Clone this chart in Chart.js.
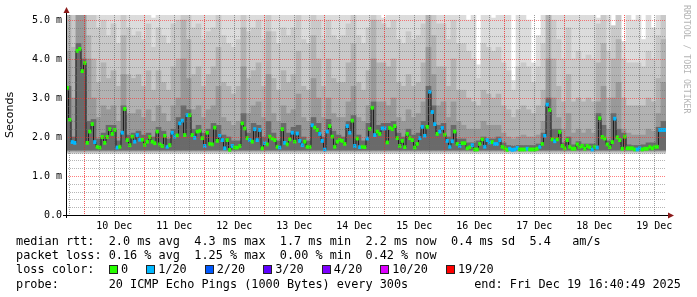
<!DOCTYPE html>
<html>
<head>
<meta charset="utf-8">
<script src="https://cdn.jsdelivr.net/npm/chart.js@4.4.1/dist/chart.umd.min.js"></script>
<style>
  body { margin: 0; background: #fff; }
  #wrap { position: relative; width: 697px; height: 297px; overflow: hidden; }
  #chart { position: absolute; left: 0; top: 0; }
  .leg { position: absolute; left: 16px; font: 11.85px "DejaVu Sans Mono", monospace; color: #000; white-space: pre; line-height: 14px; }
  .box { display: inline-block; width: 7px; height: 7px; border: 1px solid #222; margin-right: 3px; vertical-align: -1px; }
  .item { margin-right: 18px; }
  #mark { position: absolute; left: 682px; top: 5px; writing-mode: vertical-rl; font: 8.2px "DejaVu Sans Mono", monospace; color: #b4b4b4; white-space: pre; }
</style>
</head>
<body>
<div id="wrap">
  <canvas id="chart" width="697" height="297"></canvas>
  <div class="leg" id="rttLine" style="top:234px"></div>
  <div class="leg" id="lossLine" style="top:248px"></div>
  <div class="leg" style="top:262px">loss color:</div>
  <div class="leg" id="lossColors" style="top:262px; left:109px"></div>
  <div class="leg" id="probeLine" style="top:277px"></div>
  <div class="leg" id="endLine" style="top:277px; left:auto; right:16px"></div>
  <div id="mark">RRDTOOL / TOBI OETIKER</div>
</div>
<script>
// median rtt per hour (ms), 240 hours from Dec 9 16:40:49
const medianMs = [
  3.26, 2.44, 1.87, 1.85, 4.21, 4.26, 3.69, 3.90, 1.85, 2.14,
  2.33, 1.87, 1.75, 1.73, 2.00, 1.85, 2.00, 2.20, 2.08, 2.18,
  1.73, 1.75, 2.11, 2.72, 1.92, 1.79, 2.01, 1.88, 2.05, 1.93,
  1.93, 1.80, 1.88, 2.00, 1.88, 1.84, 2.14, 1.81, 1.77, 2.03,
  1.75, 1.79, 2.11, 2.01, 2.04, 2.35, 2.42, 2.05, 2.56, 2.56,
  2.05, 1.98, 2.14, 2.16, 1.97, 1.77, 2.11, 1.82, 1.81, 2.24,
  1.90, 2.03, 1.92, 1.71, 1.92, 1.67, 1.77, 1.73, 1.73, 1.77,
  2.35, 2.22, 1.97, 1.92, 1.88, 2.20, 1.92, 2.18, 1.71, 1.84,
  1.81, 2.01, 1.96, 1.92, 1.75, 1.73, 2.20, 1.85, 1.81, 1.94,
  2.11, 1.88, 2.09, 1.90, 1.79, 1.88, 1.75, 1.75, 2.30, 2.24,
  2.18, 2.08, 1.90, 1.68, 2.14, 2.28, 2.01, 1.75, 1.88, 1.92,
  1.90, 1.82, 2.28, 2.11, 2.42, 1.77, 1.96, 1.74, 1.75, 1.74,
  1.96, 2.21, 2.75, 2.05, 2.14, 2.08, 2.22, 2.22, 1.86, 2.23,
  2.20, 2.28, 1.97, 1.77, 1.90, 1.74, 2.08, 1.97, 1.92, 1.73,
  1.82, 1.97, 2.26, 2.03, 2.26, 3.16, 2.64, 2.33, 2.08, 2.14,
  2.23, 2.06, 1.90, 1.75, 1.89, 2.14, 1.82, 1.77, 1.84, 1.84,
  1.71, 1.74, 1.79, 1.68, 1.68, 1.82, 1.94, 1.75, 1.92, 1.86,
  1.87, 1.82, 1.82, 1.92, 1.75, 1.71, 1.67, 1.70, 1.67, 1.68,
  1.72, 1.68, 1.68, 1.68, 1.70, 1.68, 1.68, 1.68, 1.70, 1.75,
  1.82, 2.03, 2.83, 2.69, 1.94, 1.89, 1.94, 2.13, 1.77, 1.71,
  1.92, 1.75, 1.70, 1.70, 1.81, 1.75, 1.77, 1.70, 1.77, 1.74,
  1.68, 1.75, 1.73, 2.48, 2.00, 1.96, 1.81, 1.74, 1.87, 2.47,
  1.99, 1.92, 1.70, 2.01, 1.71, 1.71, 1.71, 1.68, 1.68, 1.71,
  1.68, 1.70, 1.70, 1.75, 1.71, 1.75, 1.75, 2.18, 2.18, 2.18,
];

// lost pings (out of 20) per hour
const medianLoss = [
  0, 0, 1, 1, 0, 0, 0, 0, 0, 0,
  0, 1, 0, 0, 0, 0, 0, 0, 0, 0,
  1, 0, 1, 0, 0, 0, 0, 1, 1, 1,
  0, 0, 0, 0, 0, 0, 0, 0, 0, 0,
  1, 0, 1, 1, 0, 1, 1, 0, 1, 0,
  0, 1, 0, 0, 0, 1, 0, 0, 0, 0,
  0, 1, 1, 1, 0, 0, 1, 0, 0, 0,
  0, 0, 0, 1, 0, 1, 1, 1, 0, 1,
  0, 0, 0, 0, 0, 1, 0, 1, 0, 0,
  1, 0, 1, 1, 1, 0, 0, 0, 1, 0,
  0, 1, 1, 1, 1, 0, 0, 0, 0, 0,
  0, 0, 1, 1, 0, 1, 0, 1, 0, 0,
  1, 0, 0, 1, 0, 0, 1, 1, 0, 0,
  0, 0, 0, 0, 0, 0, 0, 0, 0, 0,
  0, 1, 1, 1, 0, 1, 1, 1, 0, 1,
  1, 0, 1, 1, 1, 0, 0, 1, 0, 0,
  0, 0, 1, 0, 0, 0, 0, 1, 1, 1,
  0, 1, 1, 1, 0, 0, 0, 1, 1, 1,
  1, 0, 0, 0, 1, 0, 0, 0, 0, 1,
  0, 1, 1, 0, 0, 1, 0, 0, 0, 0,
  0, 0, 0, 0, 0, 0, 0, 0, 0, 0,
  1, 0, 1, 0, 0, 0, 0, 0, 0, 1,
  0, 0, 0, 0, 0, 0, 0, 0, 1, 1,
  0, 0, 0, 0, 0, 0, 0, 1, 1, 1,
];

// smoke: upper edge of each ping band per 2-hour column (ms), outer band first
const smokeL1 = [
  5.2, 5.2, 5.2, 5.2, 5.2, 5.2, 5.2, 5.2, 5.2, 5.2,
  5.2, 5.2, 5.2, 5.2, 5.2, 5.2, 5.2, 5.05, 5.2, 5.2,
  5.2, 5.2, 5.2, 5.2, 5.2, 5.2, 5.2, 5.2, 5.2, 5.2,
  5.2, 5.2, 5.2, 5.2, 5.2, 5.2, 5.2, 5.2, 5.2, 5.2,
  5.2, 5.2, 5.2, 5.2, 5.2, 5.2, 5.2, 5.2, 5.2, 5.2,
  5.2, 5.2, 5.2, 5.2, 5.2, 5.2, 5.2, 5.2, 5.2, 5.2,
  5.2, 5.2, 5.2, 5.05, 5.2, 5.2, 5.2, 5.2, 5.2, 5.2,
  5.2, 5.2, 5.2, 5.2, 5.2, 5.2, 5.2, 5.2, 5.2, 5.2,
  5.0, 5.2, 3.85, 5.2, 5.2, 5.05, 5.2, 5.2, 5.2, 3.45,
  5.2, 5.2, 5.0, 3.9, 4.6, 5.2, 5.2, 5.2, 5.2, 5.2,
  5.2, 5.2, 5.2, 5.2, 5.2, 5.2, 5.05, 5.2, 5.2, 4.85,
  5.2, 4.45, 5.2, 5.0, 5.2, 4.5, 5.2, 4.8, 5.2, 5.2,
];
const smokeL2 = [
  5.2, 5.2, 5.2, 5.2, 5.2, 5.2, 4.8, 5.0, 4.6, 4.9,
  4.4, 5.2, 4.8, 4.6, 4.7, 4.5, 4.9, 4.3, 4.8, 4.6,
  4.4, 4.9, 5.0, 5.2, 5.2, 4.8, 4.9, 4.5, 4.7, 4.8,
  5.2, 4.6, 4.4, 4.3, 4.5, 5.2, 4.7, 4.8, 5.0, 4.5,
  5.2, 4.7, 4.4, 4.8, 4.6, 4.8, 5.2, 4.5, 4.4, 5.2,
  5.0, 4.5, 5.0, 4.6, 4.5, 4.6, 4.9, 5.2, 4.6, 4.4,
  4.8, 5.2, 5.0, 4.9, 4.8, 5.0, 4.5, 4.4, 4.7, 4.5,
  4.6, 4.9, 5.2, 5.2, 4.9, 4.9, 4.5, 5.0, 4.4, 4.4,
  4.2, 4.0, 3.5, 4.4, 4.3, 4.2, 4.3, 3.9, 3.7, 3.2,
  3.8, 3.9, 3.8, 3.4, 3.8, 4.4, 5.2, 5.0, 4.5, 4.0,
  4.8, 4.0, 4.2, 4.0, 4.1, 4.0, 4.9, 5.2, 4.2, 4.85,
  5.2, 4.0, 3.9, 3.9, 3.9, 3.8, 4.2, 4.0, 4.6, 5.2,
];
const smokeL3 = [
  5.2, 4.3, 5.2, 5.2, 4.6, 4.0, 3.4, 3.9, 3.5, 3.7,
  3.3, 4.6, 3.6, 3.5, 3.6, 3.3, 3.7, 3.2, 3.7, 3.4,
  3.2, 3.8, 4.0, 5.0, 4.5, 3.6, 3.8, 3.3, 3.6, 3.8,
  4.3, 3.4, 3.3, 3.1, 3.3, 4.8, 3.5, 3.7, 3.9, 3.3,
  4.7, 3.5, 3.2, 3.7, 3.4, 3.6, 4.2, 3.3, 3.2, 4.6,
  4.0, 3.3, 4.0, 3.5, 3.4, 3.4, 3.9, 4.4, 3.4, 3.2,
  3.7, 5.0, 3.9, 3.9, 3.8, 4.0, 3.4, 3.3, 3.6, 3.3,
  3.4, 3.9, 5.2, 4.6, 3.8, 3.8, 3.3, 4.0, 3.2, 3.2,
  3.0, 2.9, 2.8, 3.2, 3.1, 3.0, 3.1, 2.8, 2.7, 2.5,
  2.7, 2.8, 2.7, 2.6, 2.8, 3.2, 5.2, 4.0, 3.3, 2.9,
  3.6, 2.9, 3.0, 2.9, 3.0, 2.9, 3.9, 4.4, 3.0, 4.0,
  4.5, 3.0, 2.8, 2.8, 2.8, 2.8, 3.0, 2.9, 3.5, 4.5,
];
const smokeL4 = [
  4.2, 3.0, 5.2, 5.2, 4.0, 3.0, 2.5, 2.8, 2.7, 2.8,
  2.4, 3.6, 2.6, 2.6, 2.7, 2.5, 2.7, 2.4, 2.8, 2.6,
  2.4, 2.8, 3.0, 4.0, 3.5, 2.7, 2.8, 2.5, 2.7, 2.8,
  3.3, 2.5, 2.4, 2.3, 2.4, 3.8, 2.6, 2.8, 2.9, 2.5,
  3.6, 2.6, 2.4, 2.8, 2.6, 2.7, 3.1, 2.5, 2.4, 3.5,
  3.0, 2.5, 3.0, 2.6, 2.5, 2.5, 2.9, 3.3, 2.5, 2.4,
  2.8, 4.0, 2.9, 2.9, 2.8, 3.0, 2.5, 2.4, 2.7, 2.5,
  2.6, 2.9, 4.3, 3.6, 2.8, 2.9, 2.5, 2.9, 2.4, 2.3,
  2.2, 2.2, 2.2, 2.4, 2.3, 2.3, 2.3, 2.1, 2.0, 1.95,
  2.0, 2.05, 2.0, 2.0, 2.05, 2.4, 4.0, 3.0, 2.5, 2.2,
  2.6, 2.1, 2.2, 2.1, 2.2, 2.1, 2.9, 3.3, 2.2, 3.0,
  3.4, 2.2, 2.1, 2.05, 2.05, 2.05, 2.2, 2.15, 2.6, 3.4,
];
const smokeL5 = [
  3.3, 2.0, 4.4, 4.0, 2.4, 2.45, 1.95, 2.1, 2.3, 2.3,
  1.9, 2.8, 2.05, 2.1, 2.15, 2.05, 2.1, 2.0, 2.25, 2.15,
  1.95, 2.2, 2.5, 2.8, 2.7, 2.2, 2.3, 2.1, 2.2, 2.35,
  2.3, 2.05, 2.0, 1.9, 1.9, 2.6, 2.1, 2.35, 2.3, 2.0,
  2.4, 2.1, 1.9, 2.35, 2.1, 2.25, 2.3, 2.0, 1.9, 2.5,
  2.35, 2.0, 2.45, 2.15, 2.05, 2.0, 2.4, 2.55, 2.05, 1.9,
  2.35, 2.9, 2.3, 2.35, 2.35, 2.4, 2.1, 2.0, 2.2, 2.05,
  2.1, 2.4, 3.3, 2.8, 2.3, 2.35, 2.0, 2.3, 1.95, 1.95,
  1.85, 1.85, 1.9, 2.0, 1.95, 1.95, 2.0, 1.85, 1.78, 1.76,
  1.78, 1.78, 1.78, 1.78, 1.82, 2.1, 3.0, 2.2, 2.2, 1.85,
  2.0, 1.8, 1.88, 1.82, 1.82, 1.82, 2.6, 2.3, 1.9, 2.6,
  2.2, 2.1, 1.8, 1.78, 1.78, 1.8, 1.85, 1.85, 2.25, 2.4,
];
// lower edge of each band (ms)
const bandLows = [1.57, 1.6, 1.62, 1.645, 1.665];

const dayLabels = ["10 Dec", "11 Dec", "12 Dec", "13 Dec", "14 Dec", "15 Dec", "16 Dec", "17 Dec", "18 Dec", "19 Dec"];
const startClock = [16, 40, 49]; // Dec 9, graph spans 240 hours
const spanHours = 240;

const lossSteps = [0, 1, 2, 3, 4, 10, 19];
const lossColors = ["#26ff00", "#00b8ff", "#0059ff", "#5e00ff", "#7e00ff", "#dd00ff", "#ff0000"];
const rttStats = ["2.0 ms avg", "4.3 ms max", "1.7 ms min", "2.2 ms now", "0.4 ms sd", "5.4   am/s"];
const lossStats = ["0.16 % avg", "1.25 % max", "0.00 % min", "0.42 % now"];
const probeText = "20 ICMP Echo Pings (1000 Bytes) every 300s";
const endText = "end: Fri Dec 19 16:40:49 2025";

const smokeColors = ["#dcdcdc", "#c9c9c9", "#b2b2b2", "#999999", "#6a6a6a"];
const majorGrid = "rgba(255, 40, 40, 0.6)";
const minorGrid = "rgba(110, 110, 110, 0.5)";
const majorGridV = "rgba(240, 30, 30, 0.75)";
const minorGridV = "rgba(90, 90, 90, 0.6)";

// legend text
document.getElementById("rttLine").textContent = "median rtt:  " + rttStats.join("  ");
document.getElementById("lossLine").textContent = "packet loss: " + lossStats.join("  ");
document.getElementById("probeLine").textContent = "probe:       " + probeText;
document.getElementById("endLine").textContent = endText;
document.getElementById("lossColors").innerHTML = lossSteps
  .map((n, i) => '<span class="item"><span class="box" style="background:' + lossColors[i] + '"></span>' + (n === 0 ? "0" : n + "/20") + "</span>")
  .join("");

const firstMidnight = 24 - (startClock[0] + startClock[1] / 60 + startClock[2] / 3600);
const tickHours = [];
for (let h = firstMidnight - 6; h <= spanHours; h += 6) tickHours.push(h);
const tickMs = [];
for (let i = 0; i <= 25; i++) tickMs.push(i / 5);

function isMidnight(v) {
  const r = (((v - firstMidnight) % 24) + 24) % 24;
  return r < 0.01 || r > 23.99;
}

function isWhole(v) {
  return Math.abs(v - Math.round(v)) < 0.001;
}

function dayLabel(v) {
  const d = Math.round((v - firstMidnight - 12) / 24);
  if (Math.abs(v - (firstMidnight + 12 + d * 24)) < 0.01 && dayLabels[d]) return dayLabels[d];
  return "";
}

const smokeTops = [smokeL1, smokeL2, smokeL3, smokeL4, smokeL5];
const smokeDatasets = smokeTops.map((tops, k) => ({
  type: "bar",
  data: tops.map((top, c) => ({ x: c * 2 + 1, y: [bandLows[k], top] })),
  backgroundColor: smokeColors[k],
  barThickness: 5,
  grouped: false,
  clip: 0,
  order: 6 - k,
}));

// dotted rrdtool grid and the axes with their arrows, drawn last
const rrdAxes = {
  id: "rrdAxes",
  afterDraw(chart) {
    const { ctx, chartArea: a, scales } = chart;
    ctx.save();
    ctx.lineWidth = 1;
    ctx.setLineDash([1, 1]);
    tickHours.forEach((h) => {
      const px = Math.round(scales.x.getPixelForValue(h)) + 0.5;
      if (px <= a.left + 1 || px >= a.right) return;
      ctx.strokeStyle = isMidnight(h) ? majorGridV : minorGridV;
      ctx.beginPath();
      ctx.moveTo(px, a.top);
      ctx.lineTo(px, a.bottom);
      ctx.stroke();
    });
    tickMs.forEach((v) => {
      const py = Math.round(scales.y.getPixelForValue(v)) + 0.5;
      if (py >= a.bottom) return;
      ctx.strokeStyle = isWhole(v) ? majorGrid : minorGrid;
      ctx.beginPath();
      ctx.moveTo(a.left, py);
      ctx.lineTo(a.right, py);
      ctx.stroke();
    });
    ctx.setLineDash([]);
    ctx.strokeStyle = "#000";
    ctx.beginPath();
    ctx.moveTo(a.left + 0.5, a.bottom + 3);
    ctx.lineTo(a.left + 0.5, a.top - 3);
    ctx.moveTo(a.left - 3, a.bottom + 0.5);
    ctx.lineTo(a.right + 3, a.bottom + 0.5);
    ctx.stroke();
    ctx.fillStyle = "#8b1a1a";
    ctx.beginPath();
    ctx.moveTo(a.left + 0.5, a.top - 8);
    ctx.lineTo(a.left - 2.5, a.top - 2);
    ctx.lineTo(a.left + 3.5, a.top - 2);
    ctx.closePath();
    ctx.fill();
    ctx.beginPath();
    ctx.moveTo(a.right + 8, a.bottom + 0.5);
    ctx.lineTo(a.right + 2, a.bottom - 2.5);
    ctx.lineTo(a.right + 2, a.bottom + 3.5);
    ctx.closePath();
    ctx.fill();
    ctx.restore();
  },
};

const ctx = document.getElementById("chart").getContext("2d");
const rttChart = new Chart(ctx, {
  type: "bar",
  data: {
    datasets: [
      {
        type: "bar",
        data: medianMs.map((m, i) => ({ x: i + 0.5, y: [m - 0.04, m + 0.04] })),
        backgroundColor: medianLoss.map((n) => lossColors[lossSteps.indexOf(n)]),
        barThickness: 2.5,
        grouped: false,
        clip: 0,
        order: 0,
      },
      {
        type: "line",
        data: medianMs.map((m, i) => ({ x: i + 0.5, y: m })),
        stepped: "middle",
        borderColor: "#1e1e1e",
        borderWidth: 1,
        pointRadius: 0,
        clip: 0,
        order: 1,
      },
      ...smokeDatasets,
    ],
  },
  options: {
    responsive: false,
    animation: false,
    layout: { padding: { top: 15, right: 31, left: 0, bottom: 0 } },
    plugins: { legend: { display: false }, tooltip: { enabled: false } },
    scales: {
      x: {
        type: "linear",
        min: 0,
        max: spanHours,
        offset: false,
        afterFit: (s) => { s.height = 82; },
        afterBuildTicks: (s) => { s.ticks = tickHours.map((v) => ({ value: v })); },
        grid: { display: false, offset: false, drawTicks: false },
        border: { display: false },
        ticks: {
          autoSkip: false,
          maxRotation: 0,
          padding: 5,
          color: "#000",
          font: { family: "DejaVu Sans Mono", size: 10 },
          callback: (v) => dayLabel(v),
        },
      },
      y: {
        type: "linear",
        min: 0,
        max: 5.128,
        afterFit: (s) => { s.width = 66; },
        afterBuildTicks: (s) => { s.ticks = tickMs.map((v) => ({ value: v })); },
        grid: { display: false, drawTicks: false },
        border: { display: false },
        title: {
          display: true,
          text: "Seconds",
          color: "#000",
          font: { family: "DejaVu Sans", size: 11 },
          padding: { top: 4, bottom: 0 },
        },
        ticks: {
          autoSkip: false,
          padding: 4,
          color: "#000",
          font: { family: "DejaVu Sans Mono", size: 10 },
          callback: (v) => {
            if (!isWhole(v)) return "";
            return v === 0 ? "0.0" : v.toFixed(1) + " m";
          },
        },
      },
    },
  },
  plugins: [rrdAxes],
});
</script>
</body>
</html>
